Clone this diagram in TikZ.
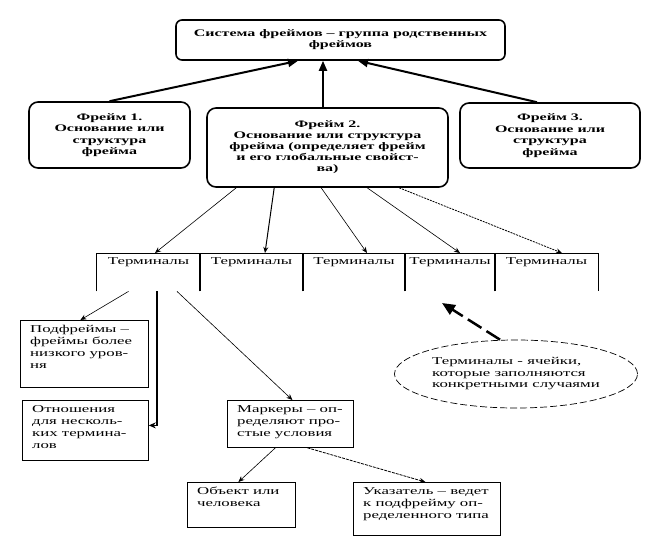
\documentclass[tikz,border=0pt]{standalone}
\usepackage{fontspec}
\setmainfont{Liberation Serif}[FakeStretch=1.6]
\usetikzlibrary{arrows.meta,shapes.geometric,calc}
\begin{document}
\begin{tikzpicture}[x=1pt,y=-1pt,
 frame/.style={draw,line width=1.6pt,rounded corners=9pt,align=center,
   font=\bfseries\fontsize{10}{11}\selectfont,inner sep=0pt},
 lbox/.style={draw,line width=0.8pt,anchor=north west,inner sep=0pt},
 ltext/.style={anchor=north west,align=left,inner xsep=10pt,inner ysep=5pt,
   font=\fontsize{10.5}{12}\selectfont},
 term/.style={font=\fontsize{10.5}{12}\selectfont,inner xsep=0pt,inner ysep=3pt,
   text height=8pt,text depth=24pt},
 termline/.style={line width=0.9pt},
 bigarrow/.style={line width=2pt,-{Triangle[length=10pt,width=8pt]}},
 thinarrow/.style={line width=0.6pt,-{Stealth[length=6pt,width=5pt]}},
]
\useasboundingbox (0,0) rectangle (654,547);

% top box and frames
\node[frame,minimum width=329pt,minimum height=40pt,rounded corners=6pt] (top) at (340.5,40)
  {Система фреймов – группа родственных\\фреймов};
\node[frame,minimum width=161pt,minimum height=66pt,font=\bfseries\fontsize{10}{11.5}\selectfont] (f1) at (109.5,135)
  {Фрейм 1.\\Основание или\\структура\\фрейма};
\node[frame,minimum width=241pt,minimum height=79pt] (f2) at (327.5,147.5)
  {Фрейм 2.\\Основание или структура\\фрейма (определяет фрейм\\и его глобальные свойст-\\ва)};
\node[frame,minimum width=180pt,minimum height=65pt,font=\bfseries\fontsize{10}{11.5}\selectfont] (f3) at (550,135.5)
  {Фрейм 3.\\Основание или\\структура\\фрейма};

\draw[bigarrow] (f1.north) -- ([xshift=-42.5pt]top.south);
\draw[bigarrow] ([xshift=-4.5pt]f2.north) -- ([xshift=-17.5pt]top.south);
\draw[bigarrow] ([xshift=-13pt]f3.north) -- ([xshift=17.5pt]top.south);

% terminals
\node[term,minimum width=103pt,anchor=north] (t1) at (148.5,253) {Терминалы};
\node[term,minimum width=103pt,anchor=north] (t2) at (251.5,253) {Терминалы};
\node[term,minimum width=102pt,anchor=north] (t3) at (354,253) {Терминалы};
\node[term,minimum width=90pt,anchor=north] (t4) at (450,253) {Терминалы};
\node[term,minimum width=103pt,anchor=north] (t5) at (546.5,253) {Терминалы};
\foreach \t in {t1,t2,t3,t4,t5}
  \draw[termline] (\t.south west) -- (\t.north west) -- (\t.north east) -- (\t.south east);

\draw[thinarrow] ([xshift=30pt]f2.south west) -- ([xshift=6.5pt]t1.north);
\draw[thinarrow,line width=1pt] ([xshift=68pt]f2.south west) -- ([xshift=13.5pt]t2.north);
\draw[thinarrow] ([xshift=115pt]f2.south west) -- ([xshift=13pt]t3.north);
\draw[thinarrow] ([xshift=161pt]f2.south west) -- ([xshift=10pt]t4.north);
\draw[thinarrow,line width=0.8pt,dash pattern=on 2pt off 1pt] ([xshift=193pt]f2.south west) -- ([xshift=15.5pt]t5.north);

% lower boxes
\node[lbox,minimum width=128pt,minimum height=67pt] (pf) at (20,320) {};
\node[ltext] (pft) at (pf.north west) {Подфреймы –\\фреймы более\\низкого уров-\\ня};
\node[lbox,minimum width=126pt,minimum height=60pt] (ot) at (22,400) {};
\node[ltext] (ott) at (ot.north west) {Отношения\\для несколь-\\ких термина-\\лов};
\node[lbox,minimum width=126pt,minimum height=47pt] (mk) at (227,400) {};
\node[ltext] (mkt) at (mk.north west) {Маркеры – оп-\\ределяют про-\\стые условия};
\node[lbox,minimum width=108pt,minimum height=45pt] (ob) at (187,482) {};
\node[ltext] (obt) at (ob.north west) {Объект или\\человека};
\node[lbox,minimum width=147pt,minimum height=53pt] (uk) at (353,482) {};
\node[ltext] (ukt) at (uk.north west) {Указатель – ведет\\к подфрейму оп-\\ределенного типа};

\draw[thinarrow] ([xshift=-20pt]t1.south) -- ([xshift=-4pt]pf.north);
\draw[line width=1.6pt,-{Stealth[length=7pt,width=6pt]}] ([xshift=8.5pt]t1.south) |- ([yshift=5pt]ot.east);
\draw[thinarrow] ([xshift=28.5pt]t1.south) -- ([xshift=2pt]mk.north);
\draw[thinarrow] ([xshift=-15pt]mk.south) -- ([xshift=-3pt]ob.north);
\draw[thinarrow,line width=0.8pt,dash pattern=on 3pt off 1pt] ([xshift=17pt]mk.south) -- ([xshift=-1.5pt]uk.north);

% ellipse note
\node[ellipse,draw,line width=0.7pt,dash pattern=on 7pt off 3pt,minimum width=243pt,minimum height=68pt,
  inner sep=0pt,align=left,font=\fontsize{10.5}{11.5}\selectfont] (el) at (516,374)
  {Терминалы - ячейки,\\которые заполняются\\конкретными случаями};
\coordinate (elt) at (442,303);
\draw[line width=2.5pt,dash pattern=on 16pt off 6pt,-{Triangle[length=13pt,width=11pt]}]
  ([xshift=-16pt]el.north) -- (elt);
\end{tikzpicture}
\end{document}
